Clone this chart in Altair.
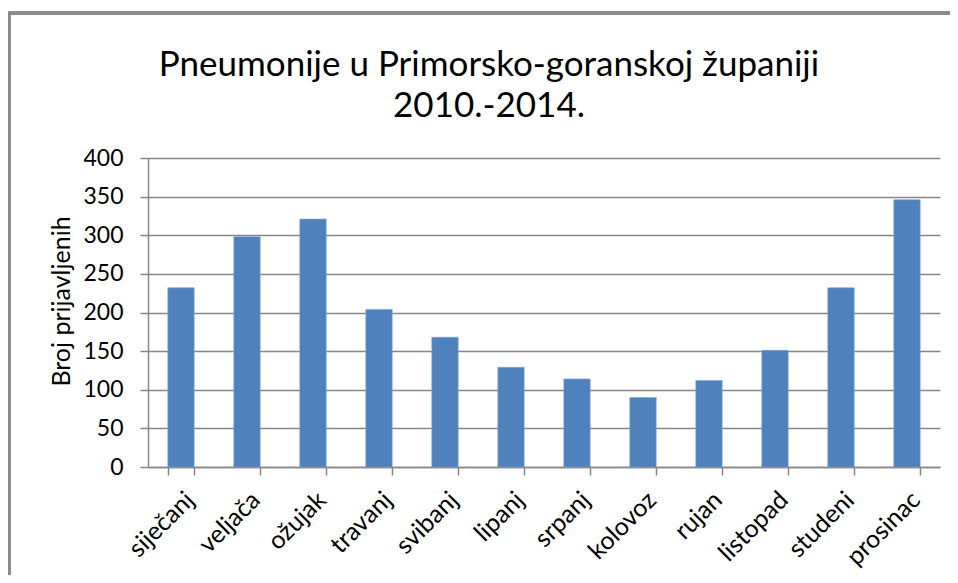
import altair as alt
import pandas as pd

months = ["siječanj", "veljača", "ožujak", "travanj", "svibanj", "lipanj",
          "srpanj", "kolovoz", "rujan", "listopad", "studeni", "prosinac"]
values = [232, 298, 321, 204, 168, 129, 114, 90, 112, 151, 232, 346]
title_lines = ["Pneumonije u Primorsko-goranskoj županiji", "2010.-2014."]
y_title = "Broj  prijavljenih"
y_ticks = [0, 50, 100, 150, 200, 250, 300, 350, 400]

df = pd.DataFrame({"mjesec": months, "broj": values})

FONT = "Lato"
GRAY = "#868686"

bars = alt.Chart(df).mark_bar(color="#4F81BD", stroke="#7FA3D0", strokeWidth=0.6).encode(
    x=alt.X("mjesec:N", sort=months, title=None,
            scale=alt.Scale(paddingInner=0.6, paddingOuter=0.3),
            axis=alt.Axis(labelAngle=-45, labelAlign="right", labelBaseline="top",
                          labelPadding=12, tickBand="extent", tickSize=8,
                          labelFontSize=25, labelFont=FONT, labelColor="#000",
                          domainColor=GRAY, tickColor=GRAY, domainWidth=1.5, tickWidth=1.5,
                          grid=False)),
    y=alt.Y("broj:Q", title=y_title,
            scale=alt.Scale(domain=[0, 400], nice=False),
            axis=alt.Axis(values=y_ticks, tickSize=8, labelPadding=17,
                          labelFontSize=23, labelFont=FONT, labelColor="#000",
                          titleFont=FONT, titleFontSize=25, titleFontWeight="normal",
                          titleColor="#000", titlePadding=8, titleY=143,
                          domainColor=GRAY, tickColor=GRAY, gridColor=GRAY,
                          domainWidth=1.5, tickWidth=1.5, gridWidth=1.3)),
)

frame = alt.Chart(df).mark_rect(fill="white", fillOpacity=0, stroke="#8a8a8a", strokeWidth=2.5).encode(
    x=alt.value(-139), x2=alt.value(900), y=alt.value(-145), y2=alt.value(700)
)

chart = alt.layer(frame, bars).properties(
    width=792, height=309,
    padding={"left": 140, "top": 150, "right": 10, "bottom": 108},
    autosize=alt.AutoSizeParams(type="none"),
    title=alt.TitleParams(text=title_lines, font=FONT, fontSize=35, fontWeight="normal",
                          color="#000", anchor="middle", dx=-55, offset=0, dy=112,
                          lineHeight=41),
).configure_view(stroke=None)

chart.save("out.html", embed_options={"renderer": "svg", "actions": False})
